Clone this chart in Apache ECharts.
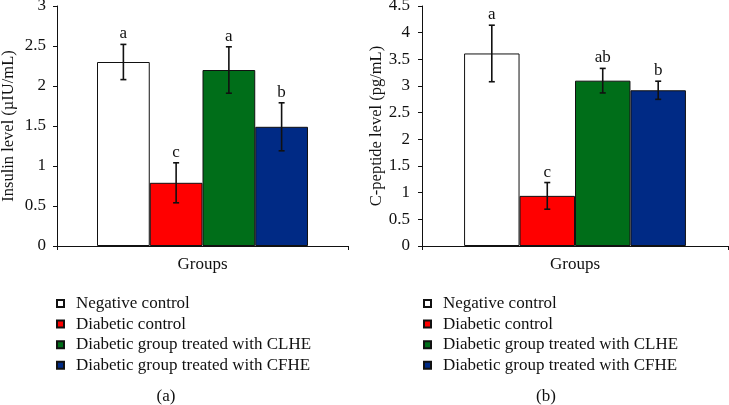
<!DOCTYPE html>
<html>
<head>
<meta charset="utf-8">
<script src="https://cdn.jsdelivr.net/npm/echarts@6/dist/echarts.min.js"></script>
<style>html,body{margin:0;padding:0;background:#fff}#c{width:729px;height:405px}</style>
</head>
<body>
<div id="c"></div>
<script>
const groupNames = ['Negative control', 'Diabetic control', 'Diabetic group treated with CLHE', 'Diabetic group treated with CFHE'];
const colors = ['#ffffff', '#ff0000', '#006e19', '#002a85'];
const category = ['Groups'];
const insulinMean = [2.30, 0.79, 2.20, 1.49];
const insulinErr = [0.22, 0.25, 0.29, 0.30];
const insulinLetters = ['a', 'c', 'a', 'b'];
const cpepMean = [3.61, 0.94, 3.10, 2.92];
const cpepErr = [0.53, 0.25, 0.23, 0.17];
const cpepLetters = ['a', 'c', 'ab', 'b'];

const FONT = 'Liberation Serif';
const FS = 17;
const GAP = 0.275;

function bars(gridIdx, means) {
  return means.map((v, i) => ({
    name: groupNames[i], type: 'bar', xAxisIndex: gridIdx, yAxisIndex: gridIdx,
    data: [v], barGap: 0, barCategoryGap: (GAP * 100) + '%',
    itemStyle: { color: colors[i], borderColor: '#111', borderWidth: 1 },
    emphasis: { disabled: true }
  }));
}
function errSeries(gridIdx, means, errs, letters) {
  return {
    type: 'custom', xAxisIndex: gridIdx, yAxisIndex: gridIdx, silent: true, clip: false, z: 10,
    encode: { x: 0, y: 1 },
    data: means.map((m, i) => [0, m, errs[i], i]),
    renderItem: function (params, api) {
      const cat = api.value(0), m = api.value(1), e = api.value(2), i = api.value(3);
      const band = api.size([1, 0])[0];
      const groupW = band * (1 - GAP);
      const bw = groupW / means.length;
      const cx = api.coord([cat, m])[0] - groupW / 2 + (i + 0.5) * bw;
      const yT = api.coord([cat, m + e])[1];
      const yB = api.coord([cat, m - e])[1];
      const st = { stroke: '#111', lineWidth: 1.6 };
      const cap = 3;
      return {
        type: 'group', children: [
          { type: 'line', shape: { x1: cx, y1: yT, x2: cx, y2: yB }, style: st },
          { type: 'line', shape: { x1: cx - cap, y1: yT, x2: cx + cap, y2: yT }, style: st },
          { type: 'line', shape: { x1: cx - cap, y1: yB, x2: cx + cap, y2: yB }, style: st },
          { type: 'text', x: cx, y: yT - 2, style: { text: letters[i], fill: '#111', font: FS + 'px ' + FONT, align: 'center', verticalAlign: 'bottom' } }
        ]
      };
    }
  };
}
const axisLineStyle = { lineStyle: { color: '#111', width: 1 } };
function xAx(gridIdx) {
  return {
    type: 'category', gridIndex: gridIdx, data: category,
    axisLine: axisLineStyle, axisTick: { show: true, length: 4, lineStyle: { color: '#111' } },
    axisLabel: { color: '#111', fontFamily: FONT, fontSize: FS, margin: 10 }
  };
}
function yAx(gridIdx, max, name, nameGap, margin) {
  return {
    type: 'value', gridIndex: gridIdx, min: 0, max: max, interval: 0.5,
    name: name, nameLocation: 'middle', nameGap: nameGap,
    nameTextStyle: { color: '#111', fontFamily: FONT, fontSize: 16.5 },
    axisLine: { show: true, lineStyle: { color: '#111', width: 1 } },
    axisTick: { show: true, length: 4, lineStyle: { color: '#111' } },
    splitLine: { show: false },
    axisLabel: { color: '#111', fontFamily: FONT, fontSize: FS, margin: margin }
  };
}
function legend(left) {
  return {
    orient: 'vertical', left: left, top: 295, padding: 0, icon: 'rect', itemWidth: 7, itemHeight: 7,
    itemGap: 3.6, data: groupNames, selectedMode: false,
    textStyle: { color: '#111', fontFamily: FONT, fontSize: FS, lineHeight: 16, padding: [0, 0, 0, 7] }
  };
}
const chart = echarts.init(document.getElementById('c'), null, { renderer: 'canvas' });
chart.setOption({
  animation: false,
  backgroundColor: '#fff',
  textStyle: { fontFamily: FONT },
  grid: [
    { left: 57, top: 6, width: 291, height: 240, outerBoundsMode: 'none', containLabel: false },
    { left: 422, top: 6, right: 1, height: 240, outerBoundsMode: 'none', containLabel: false }
  ],
  xAxis: [xAx(0), xAx(1)],
  yAxis: [yAx(0, 3, 'Insulin level (\u00b5IU/mL)', 40, 11), yAx(1, 4.5, 'C-peptide level (pg/mL)', 37, 12)],
  legend: [legend(56), legend(423)],
  graphic: [
    { type: 'text', x: 166, y: 397, style: { text: '(a)', font: FS + 'px ' + FONT, fill: '#111', align: 'center', verticalAlign: 'middle' } },
    { type: 'text', x: 546, y: 397, style: { text: '(b)', font: FS + 'px ' + FONT, fill: '#111', align: 'center', verticalAlign: 'middle' } }
  ],
  series: [].concat(
    bars(0, insulinMean), [errSeries(0, insulinMean, insulinErr, insulinLetters)],
    bars(1, cpepMean), [errSeries(1, cpepMean, cpepErr, cpepLetters)]
  )
});
</script>
</body>
</html>
